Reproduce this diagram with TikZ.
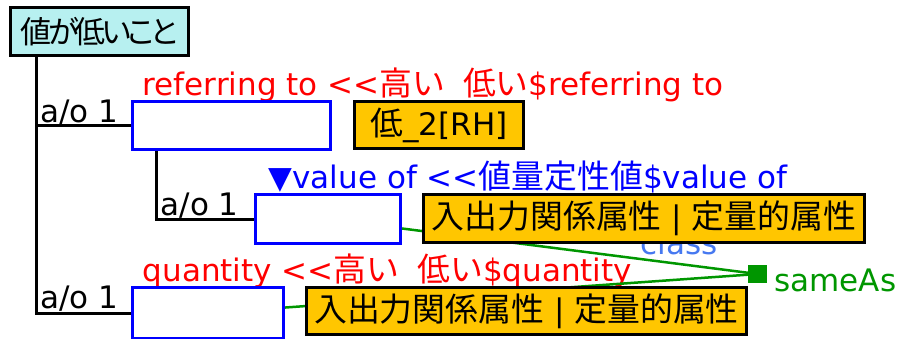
\documentclass[tikz,border=0pt]{standalone}
\usepackage{fontspec}
\setmainfont{DejaVu Sans}
\newfontfamily\jpfont{Noto Sans CJK JP}[Scale=1.06]
\newfontfamily\jppfont{Noto Sans CJK JP}[Scale=1.0,RawFeature=+palt,LetterSpace=-12]
\usepackage{xcolor}
\usepackage{tikz}
\usetikzlibrary{positioning,calc}
\pgfdeclarelayer{background}
\pgfsetlayers{background,main}

\definecolor{rootcyan}{RGB}{183,240,240}
\definecolor{classorange}{RGB}{255,198,0}
\definecolor{slotblue}{RGB}{0,0,255}
\definecolor{rolered}{RGB}{255,0,0}
\definecolor{linkgreen}{RGB}{0,150,0}
\definecolor{classblue}{RGB}{70,120,240}

\newcommand{\jp}[1]{{\jpfont #1}}

\begin{document}
\begin{tikzpicture}[
      x=1pt, y=-1pt,
      every node/.style={font=\fontsize{31}{37}\selectfont},
      rootbox/.style={draw, line width=3pt, fill=rootcyan, inner sep=0pt},
      slotbox/.style={draw=slotblue, line width=3pt, fill=white, inner sep=0pt},
      classbox/.style={draw, line width=3pt, fill=classorange, inner sep=0pt},
      treeline/.style={line width=3pt},
      linkline/.style={draw=linkgreen, line width=2.5pt},
      aolabel/.style={anchor=base west, inner sep=0pt},
      rolelabel/.style={anchor=base west, inner sep=0pt},
    ]
    \useasboundingbox (0,0) rectangle (898,338);

    % --- root concept ---
    \node[rootbox, minimum width=178pt, minimum height=48pt] (root)
      at (99.5,31.5) {\jppfont 値が低いこと};

    % --- attribute slots ---
    \node[slotbox, minimum width=198pt, minimum height=48pt] (slotA) at (231.5,125.5) {};
    \node[slotbox, minimum width=145pt, minimum height=49pt] (slotB) at (328,219) {};
    \node[slotbox, minimum width=151pt, minimum height=51pt] (slotC) at (208,313) {};

    % --- class constraints ---
    \node[classbox, minimum width=169pt, minimum height=47pt] (classA)
      at (439,125) {\jp{低}\_2[RH]};
    \node[classbox, minimum width=441pt, minimum height=48pt] (classB)
      at (644,218.5) {\jp{入出力関係属性} | \jp{定量的属性}};
    \node[classbox, minimum width=440pt, minimum height=47pt] (classC)
      at (526.5,311) {\jp{入出力関係属性} | \jp{定量的属性}};

    % --- sameAs point ---
    \node[fill=linkgreen, minimum width=19pt, minimum height=18pt, inner sep=0pt] (sameas)
      at (757.5,274) {};
    \node[aolabel, text=linkgreen] (sameaslbl) at ($(sameas.east)+(7,17)$) {sameAs};

    % --- tree ---
    \coordinate (trunk) at ($(root.south west)+(27,0)$);
    \coordinate (subtrunk) at ($(slotA.south west)+(25.5,0)$);
    \draw[treeline] (trunk) |- (slotA.west);
    \draw[treeline] (trunk) |- (slotC.west);
    \draw[treeline] (subtrunk) |- (slotB.west);

    \node[aolabel] (aoA) at ($(trunk |- slotA.west)+(4,-3.5)$) {a/o 1};
    \node[aolabel] (aoB) at ($(subtrunk |- slotB.west)+(4,-4)$) {a/o 1};
    \node[aolabel] (aoC) at ($(trunk |- slotC.west)+(4,-5)$) {a/o 1};

    % --- role labels and links, behind the boxes ---
    \begin{pgfonlayer}{background}
      \node[rolelabel, text=rolered] (roleA) at ($(slotA.north west)+(11.5,-4.5)$)
        {referring to <{}<\jp{高い} \hspace{8pt}\jp{低い}\$referring to};
      \node[rolelabel, text=slotblue] (roleB) at ($(slotB.north west)+(14.5,-4.5)$)
        {▼value of <{}<\jp{値量定性値}\$value of};
      \node[rolelabel, text=rolered] (roleC) at ($(slotC.north west)+(11.5,-4.5)$)
        {quantity <{}<\jp{高い} \hspace{8pt}\jp{低い}\$quantity};
      \node[rolelabel, text=classblue] (classlbl) at ($(classB.south west)+(218.5,10)$) {class};

      \draw[linkline] (slotB.center) -- (sameas.center);
      \draw[linkline] (slotC.center) -- (sameas.center);
    \end{pgfonlayer}
  \end{tikzpicture}
\end{document}
